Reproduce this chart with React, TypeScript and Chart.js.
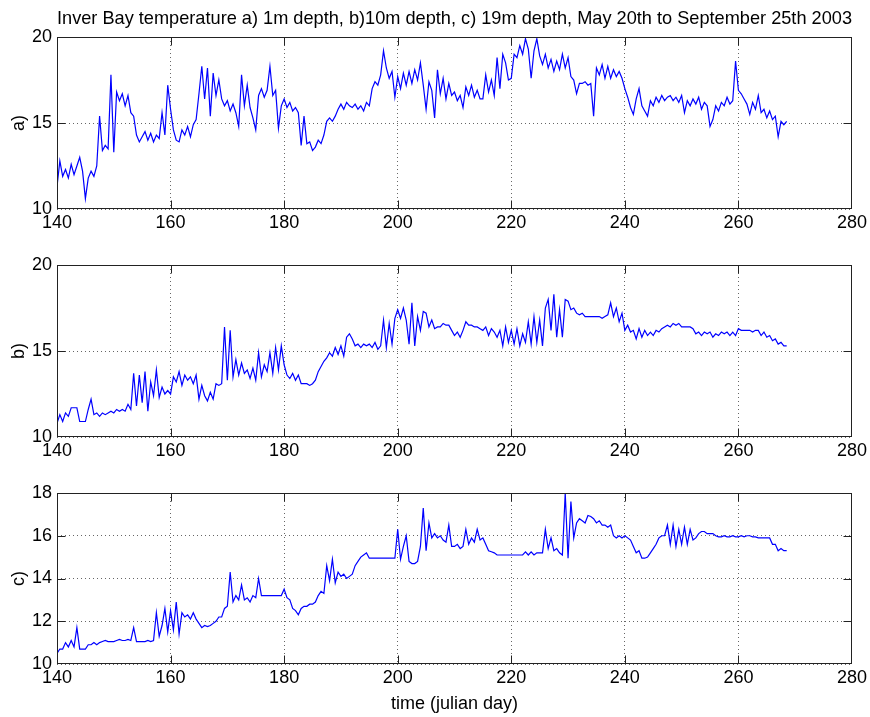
import React, { useEffect, useRef } from 'react';
import { Chart, registerables } from 'chart.js';

Chart.register(...registerables);

const FONT = "'Liberation Sans', Arial, Helvetica, sans-serif";

const figureTitle =
  'Inver Bay temperature a) 1m depth, b)10m depth, c) 19m depth, May 20th to September 25th 2003';
const xAxisTitle = 'time (julian day)';
const panelLabels = ['a)', 'b)', 'c)'];

// time axis: julian day, half-day samples starting at day 140
const dayStart = 140;
const dayStep = 0.5;
const xMin = 140;
const xMax = 280;
const xTickStep = 20;

// a) 1m depth
const tempA = [
  11.3, 12.8, 11.9, 12.3, 11.8, 12.6, 12.0, 12.5, 13.0, 12.2,
  10.6, 11.8, 12.2, 11.9, 12.5, 15.4, 13.4, 13.7, 13.5, 17.8,
  13.3, 16.8, 16.3, 16.7, 16.0, 16.6, 15.6, 15.4, 14.3, 13.9,
  14.2, 14.5, 14.0, 14.4, 13.9, 14.3, 14.1, 15.6, 14.3, 17.2,
  15.8, 14.6, 14.0, 13.9, 14.6, 14.3, 14.8, 14.2, 14.9, 15.2,
  16.7, 18.3, 16.4, 18.2, 15.4, 17.9, 16.6, 17.5, 16.4, 16.0,
  16.3, 15.7, 16.1, 15.6, 14.8, 17.8, 16.0, 17.2, 15.9, 15.3,
  14.6, 16.6, 17.0, 16.5, 16.9, 18.3, 16.6, 16.9, 14.7, 16.0,
  16.4, 15.9, 16.2, 15.7, 15.9, 15.6, 13.7, 15.4, 13.8, 13.9,
  13.4, 13.6, 14.0, 13.8, 14.3, 15.1, 15.3, 15.1, 15.4, 15.8,
  16.1, 15.8, 16.2, 16.0, 15.9, 16.1, 15.8, 16.0, 15.7, 16.2,
  16.0, 17.0, 17.4, 17.2, 17.8, 19.2, 18.2, 17.6, 18.0, 16.5,
  17.7, 17.0, 17.9, 17.2, 18.0, 17.3, 18.1, 17.5, 18.5, 17.2,
  15.8, 17.4, 16.9, 15.3, 18.1, 16.7, 17.6, 16.4, 17.3, 16.6,
  16.8, 16.3, 16.6, 15.9, 17.1, 16.6, 17.2, 16.5, 16.9, 16.4,
  16.4, 17.8, 16.8, 17.5, 16.6, 18.8, 17.0, 19.0, 18.5, 17.5,
  17.6, 19.0, 18.8, 19.5, 19.0, 19.9, 19.3, 17.6, 19.2, 19.9,
  18.9, 18.4, 19.0, 18.2, 18.7, 18.0, 18.6, 18.1, 19.0, 18.2,
  18.8, 17.7, 17.5, 16.7, 17.3, 17.3, 17.4, 17.2, 17.3, 15.4,
  18.2, 17.8, 18.4, 17.6, 18.3, 17.6, 18.1, 17.7, 18.0, 17.6,
  17.0, 16.5, 15.9, 15.5, 16.4, 17.0, 16.0, 15.7, 15.4, 16.3,
  16.0, 16.5, 16.2, 16.6, 16.3, 16.5, 16.6, 16.3, 16.5, 16.2,
  16.6, 15.6, 16.3, 16.0, 16.4, 16.1, 16.5, 15.8, 16.2, 16.0,
  14.8, 15.2, 16.0, 15.7, 16.2, 16.0, 16.5, 16.1, 16.3, 18.6,
  16.9, 16.7, 16.4, 16.1, 15.5, 16.2, 15.8, 16.6, 15.6, 15.8,
  15.3, 15.7, 15.2, 15.4, 14.2, 15.1, 14.9, 15.1,
];

// b) 10m depth
const tempB = [
  10.8, 11.3, 10.9, 11.4, 11.2, 11.7, 11.7, 11.7, 10.9, 10.9,
  10.9, 11.6, 12.2, 11.3, 11.4, 11.2, 11.4, 11.3, 11.4, 11.5,
  11.4, 11.6, 11.5, 11.6, 11.5, 11.9, 11.6, 13.7, 11.8, 13.6,
  12.0, 13.8, 11.5, 13.2, 12.4, 13.9, 12.3, 12.9, 12.5, 12.7,
  12.5, 13.5, 13.2, 13.8, 13.0, 13.6, 13.3, 13.5, 13.1, 13.6,
  12.2, 13.0, 12.4, 12.1, 12.6, 12.2, 13.1, 13.0, 13.1, 16.4,
  13.3, 16.2, 13.5, 14.5, 13.6, 14.3, 13.7, 13.9, 13.4, 14.0,
  13.3, 14.9, 13.5, 14.2, 13.8, 14.9, 13.7, 15.2, 13.9, 15.3,
  14.2, 13.6, 13.4, 13.7, 13.3, 13.6, 13.1, 13.1, 13.1, 13.0,
  13.1, 13.3, 13.8, 14.1, 14.4, 14.6, 14.9, 14.7, 15.2, 14.8,
  15.3, 14.7, 15.8, 16.0, 15.7, 15.3, 15.4, 15.2, 15.4, 15.3,
  15.4, 15.2, 15.5, 15.1, 15.3, 16.8, 15.2, 16.6, 15.4, 16.9,
  17.4, 16.9, 17.5, 16.8, 15.4, 17.8, 15.3, 17.0, 16.2, 17.3,
  17.2, 16.4, 16.8, 16.3, 16.4, 16.4, 16.6, 16.5, 16.5, 16.2,
  15.9, 16.1, 15.8, 16.2, 16.7, 16.5, 16.5, 16.4, 16.4, 16.3,
  16.2, 16.4, 15.9, 16.3, 16.1, 15.8, 16.2, 15.3, 16.4, 15.5,
  16.2, 15.4, 16.3, 15.3, 16.0, 15.5, 16.7, 15.4, 17.0, 15.5,
  16.8, 15.3, 17.5, 18.0, 16.2, 18.3, 15.8, 17.4, 15.8, 18.0,
  17.9, 17.4, 17.5, 17.2, 17.1, 17.2, 17.0, 17.0, 17.0, 17.0,
  17.0, 17.0, 16.9, 17.0, 17.1, 17.8, 17.0, 17.5, 16.7, 17.2,
  16.2, 16.5, 16.1, 16.2, 15.7, 16.3, 15.8, 16.2, 15.9, 16.1,
  15.9, 16.2, 16.1, 16.3, 16.4, 16.5, 16.4, 16.6, 16.5, 16.6,
  16.4, 16.4, 16.4, 16.4, 16.3, 16.0, 16.1, 15.9, 16.1, 16.0,
  16.1, 15.8, 16.0, 15.9, 16.1, 16.0, 16.1, 15.9, 16.1, 15.9,
  16.3, 16.2, 16.2, 16.2, 16.2, 16.1, 16.2, 16.2, 15.9, 16.1,
  15.8, 15.9, 15.6, 15.7, 15.4, 15.5, 15.3, 15.3,
];

// c) 19m depth
const tempC = [
  10.5, 10.7, 10.7, 11.0, 10.8, 11.1, 10.8, 11.7, 10.7, 10.7,
  10.7, 10.9, 10.9, 11.0, 10.9, 11.0, 11.05, 11.1, 11.05, 11.05,
  11.05, 11.1, 11.15, 11.1, 11.1, 11.15, 11.1, 11.7, 11.05, 11.05,
  11.05, 11.05, 11.1, 11.05, 11.1, 12.4, 11.3, 11.8, 12.6, 11.5,
  12.5, 11.6, 12.9, 11.4, 12.4, 12.2, 12.3, 12.1, 12.4, 12.1,
  11.9, 11.7, 11.8, 11.75, 11.8, 11.9, 12.0, 12.2, 12.2, 12.6,
  12.7, 14.3, 12.9, 13.2, 13.0, 13.7, 13.0, 13.1, 12.9, 13.2,
  13.1, 14.0, 13.2, 13.2, 13.2, 13.2, 13.2, 13.2, 13.2, 13.2,
  13.5, 13.1, 13.0, 12.6, 12.5, 12.3, 12.6, 12.7, 12.7, 12.8,
  12.8, 12.9, 13.2, 13.4, 13.3, 14.6, 13.9, 14.9, 13.8, 14.3,
  14.1, 14.2, 14.0, 14.1, 14.2, 14.6, 14.8, 15.0, 15.1, 15.2,
  14.95, 14.95, 14.95, 14.95, 14.95, 14.95, 14.95, 14.95, 14.95, 14.95,
  16.3, 14.9, 15.5, 16.0, 14.8, 14.7, 14.7, 14.8, 15.5, 17.3,
  15.3, 16.6, 15.9, 16.1, 15.9, 16.0, 15.8, 15.7, 16.5, 15.5,
  15.5, 15.6, 15.4, 15.5, 16.3, 15.6, 15.9, 15.7, 16.3, 15.8,
  15.9, 15.6, 15.3, 15.25, 15.2, 15.1, 15.1, 15.1, 15.1, 15.1,
  15.1, 15.1, 15.1, 15.1, 15.1, 15.25, 15.1, 15.25, 15.1, 15.2,
  15.2, 15.2, 16.3, 15.4, 15.9, 15.3, 15.4, 15.2, 15.1, 18.0,
  14.95, 17.6, 15.9, 16.6, 16.8, 16.7, 16.6, 16.95, 16.9, 16.8,
  16.6, 16.7, 16.5, 16.5, 16.4, 16.5, 16.0, 15.9, 16.0, 15.9,
  16.0, 15.9, 15.8, 15.5, 15.2, 15.3, 14.95, 14.95, 15.0, 15.2,
  15.4, 15.6, 15.9, 16.0, 16.0, 16.5, 15.6, 16.5, 15.5, 16.3,
  15.6, 16.4, 15.6, 16.3, 15.8, 15.9, 16.1, 16.2, 16.2, 16.1,
  16.1, 16.1, 16.0, 15.95, 15.95, 16.0, 15.95, 15.95, 16.0, 15.95,
  15.95, 16.0, 15.95, 16.0, 16.0, 15.95, 15.95, 15.9, 15.9, 15.9,
  15.9, 15.9, 15.6, 15.6, 15.3, 15.4, 15.3, 15.3,
];

const TICK_LEN = 8;
const AXIS_COLOR = '#222222';
const GRID_COLOR = 'rgba(0,0,0,0.6)';
const LINE_COLOR = '#0000ff';

const boxPlugin = {
  id: 'matlabBox',
  afterDraw(chart: any) {
    const { ctx, chartArea } = chart;
    const { left, right, top, bottom } = chartArea;
    const xs = chart.scales.x;
    const ys = chart.scales.y;
    const L = Math.round(left) + 0.5;
    const R = Math.round(right) - 0.5;
    const T = Math.round(top) + 0.5;
    const B = Math.round(bottom) - 0.5;
    ctx.save();
    ctx.strokeStyle = AXIS_COLOR;
    ctx.lineWidth = 1;
    ctx.setLineDash([]);
    ctx.beginPath();
    xs.ticks.forEach((t: any) => {
      const px = Math.min(R, Math.max(L, Math.round(xs.getPixelForValue(t.value)) + 0.5));
      ctx.moveTo(px, B);
      ctx.lineTo(px, B - TICK_LEN);
      ctx.moveTo(px, T);
      ctx.lineTo(px, T + TICK_LEN);
    });
    ys.ticks.forEach((t: any) => {
      const py = Math.min(B, Math.max(T, Math.round(ys.getPixelForValue(t.value)) + 0.5));
      ctx.moveTo(L, py);
      ctx.lineTo(L + TICK_LEN, py);
      ctx.moveTo(R, py);
      ctx.lineTo(R - TICK_LEN, py);
    });
    ctx.stroke();
    ctx.strokeRect(L, T, R - L, B - T);
    ctx.restore();
  },
};

type PanelProps = {
  top: number;
  height: number;
  padTop: number;
  xAxisHeight: number;
  values: number[];
  yMin: number;
  yMax: number;
  yStep: number;
  yLabel: string;
  title?: string;
  xTitle?: string;
};

function Panel(props: PanelProps) {
  const ref = useRef<HTMLCanvasElement>(null);
  useEffect(() => {
    const canvas = ref.current;
    if (!canvas) return;
    const font = { family: FONT, size: 18, weight: 'normal' as const };
    const titleFont = { family: FONT, size: 18.6, weight: 'normal' as const };
    const points = props.values.map((v, i) => ({ x: dayStart + i * dayStep, y: v }));
    const chart = new Chart(canvas, {
      type: 'line',
      data: {
        datasets: [
          {
            data: points,
            borderColor: LINE_COLOR,
            borderWidth: 1.2,
            pointRadius: 0,
            fill: false,
            tension: 0,
          },
        ],
      },
      options: {
        animation: false,
        responsive: true,
        maintainAspectRatio: false,
        events: [],
        layout: { padding: { top: props.padTop, right: 16, left: 0, bottom: 0 } },
        plugins: {
          legend: { display: false },
          tooltip: { enabled: false },
          title: {
            display: !!props.title,
            text: props.title || '',
            font: titleFont,
            color: '#000',
            padding: { top: 7.6, bottom: 7.1 },
            fullSize: false,
          },
        },
        scales: {
          x: {
            type: 'linear',
            min: xMin,
            max: xMax,
            ticks: {
              stepSize: xTickStep,
              font,
              color: '#000',
              padding: 3,
              maxRotation: 0,
              autoSkip: false,
            },
            grid: { color: GRID_COLOR, drawTicks: false, lineWidth: 1 },
            border: { display: false, dash: [1, 3] },
            title: {
              display: !!props.xTitle,
              text: props.xTitle || '',
              font,
              color: '#000',
              padding: { top: 0, bottom: 2 },
            },
            afterFit: (s: any) => {
              s.height = props.xAxisHeight;
            },
          },
          y: {
            type: 'linear',
            min: props.yMin,
            max: props.yMax,
            ticks: { stepSize: props.yStep, font, color: '#000', padding: 5 },
            grid: { color: GRID_COLOR, drawTicks: false, lineWidth: 1 },
            border: { display: false, dash: [1, 3] },
            title: {
              display: true,
              text: props.yLabel,
              font,
              color: '#000',
              padding: { top: 8, bottom: 0 },
            },
            afterFit: (s: any) => {
              s.width = 57;
            },
          },
        },
      },
      plugins: [boxPlugin],
    });
    return () => chart.destroy();
  }, []);
  return (
    <div style={{ position: 'absolute', left: 0, top: props.top, width: 870, height: props.height }}>
      <canvas ref={ref} />
    </div>
  );
}

export default function App() {
  return (
    <div style={{ position: 'absolute', left: 0, top: 0, width: 870, height: 717, background: '#fff', overflow: 'hidden' }}>
      <Panel top={0} height={239} padTop={0} xAxisHeight={30} values={tempA} yMin={10} yMax={20} yStep={5} yLabel={panelLabels[0]} title={figureTitle} />
      <Panel top={239} height={228} padTop={26} xAxisHeight={30} values={tempB} yMin={10} yMax={20} yStep={5} yLabel={panelLabels[1]} />
      <Panel top={467} height={250} padTop={26} xAxisHeight={53} values={tempC} yMin={10} yMax={18} yStep={2} yLabel={panelLabels[2]} xTitle={xAxisTitle} />
    </div>
  );
}
